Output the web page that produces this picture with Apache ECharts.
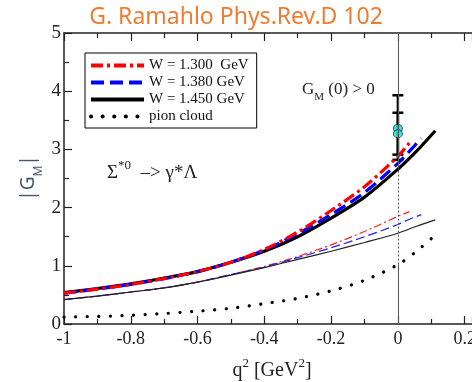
<!DOCTYPE html>
<html>
<head>
<meta charset="utf-8">
<script src="https://cdn.jsdelivr.net/npm/echarts@6/dist/echarts.min.js"></script>
<style>
  html, body { margin: 0; padding: 0; background: #fff; }
  #main { width: 472px; height: 382px; }
</style>
</head>
<body>
<div id="main"></div>
<script>
// q^2 grid [GeV^2]; each curve stops at its own threshold
var qBase = [-1, -0.9, -0.8, -0.7, -0.6, -0.5, -0.4, -0.3, -0.2, -0.1, 0]
var qRed = qBase.concat([0.034])
var qBlue = qBase.concat([0.035, 0.07])
var qBlack = qBase.concat([0.056, 0.112])

// |G_M| full model (thick lines)
var thickRed = [0.53, 0.60, 0.68, 0.78, 0.90, 1.06, 1.28, 1.58, 1.95, 2.36, 2.88, 3.11]
var thickBlue = [0.53, 0.60, 0.68, 0.78, 0.90, 1.06, 1.27, 1.55, 1.88, 2.26, 2.76, 2.97, 3.19]
var thickBlack = [0.54, 0.61, 0.69, 0.79, 0.90, 1.06, 1.25, 1.50, 1.82, 2.18, 2.66, 2.97, 3.32]
// thin lines
var thinRed = [0.42, 0.48, 0.55, 0.62, 0.72, 0.85, 0.99, 1.16, 1.36, 1.59, 1.85, 1.93]
var thinBlue = [0.42, 0.48, 0.55, 0.62, 0.72, 0.85, 0.98, 1.14, 1.31, 1.50, 1.71, 1.80, 1.88]
var thinBlack = [0.42, 0.48, 0.55, 0.62, 0.72, 0.84, 0.97, 1.11, 1.25, 1.40, 1.56, 1.68, 1.79]
// pion cloud
var pionCloud = [0.12, 0.13, 0.15, 0.18, 0.22, 0.27, 0.35, 0.44, 0.57, 0.75, 1.02, 1.25, 1.53]

// data points at q^2 = 0 with error bars
var gmX = [0, 0]
var gmVal = [3.36, 3.27]
var gmLo = [2.82, 2.91]
var gmHi = [3.93, 3.63]

var legendNames = ['W = 1.300  GeV', 'W = 1.380 GeV', 'W = 1.450 GeV', 'pion cloud']
// the plot is cut at the right edge of the picture, just past 0.2
var xTicks = { min: -1, max: 0.222, step: 0.2 }
var yTicks = { min: 0, max: 5, step: 1 }

function pairs (xs, ys) {
  return xs.map(function (x, i) { return [x, ys[i]] })
}

var serif = 'Liberation Serif'
var dashDot = [12, 4, 3, 4]
var dashThin = [8, 3, 2, 3]

function curve (name, xs, ys, color, width, type) {
  return {
    name: name,
    type: 'line',
    data: pairs(xs, ys),
    smooth: 0.3,
    symbol: 'none',
    silent: true,
    itemStyle: { color: color },
    lineStyle: { color: color, width: width, type: type }
  }
}

var myChart = echarts.init(document.getElementById('main'))

var axisCommon = {
  type: 'value',
  axisLine: { show: true, onZero: false, lineStyle: { color: '#222', width: 1.5 } },
  axisTick: { show: true, inside: true, length: 8, lineStyle: { color: '#222', width: 1.2 } },
  minorTick: { show: true, splitNumber: 2, length: 5, lineStyle: { color: '#222', width: 1.2 } },
  splitLine: { show: false }
}

// only label real multiples of the step (skip the cut-off end)
function xLabel (v) {
  var k = Math.round(v / xTicks.step)
  if (Math.abs(v - k * xTicks.step) > 1e-6) return ''
  return String(Math.round(v * 10) / 10)
}

var option = {
  backgroundColor: '#fff',
  animation: false,
  grid: { left: 64, top: 33, bottom: 58, right: 0, containLabel: false, outerBoundsMode: 'none' },
  legend: {
    left: 85,
    top: 53,
    orient: 'vertical',
    padding: [5, 8, 4, 4],
    itemWidth: 53,
    itemHeight: 15,
    itemGap: 2,
    borderColor: '#000',
    borderWidth: 1,
    selectedMode: false,
    itemStyle: { opacity: 0 },
    textStyle: { fontFamily: serif, fontSize: 15, color: '#111' },
    data: [
      { name: legendNames[0], lineStyle: { width: 4 } },
      { name: legendNames[1], lineStyle: { width: 4 } },
      { name: legendNames[2], lineStyle: { width: 4 } },
      { name: legendNames[3], lineStyle: { width: 4 } }
    ]
  },
  xAxis: [
    Object.assign({}, axisCommon, {
      position: 'bottom',
      min: xTicks.min,
      max: xTicks.max,
      interval: xTicks.step,
      axisLabel: {
        margin: 6,
        fontFamily: serif,
        fontSize: 18,
        color: '#222',
        showMaxLabel: true,
        formatter: xLabel
      }
    }),
    Object.assign({}, axisCommon, {
      position: 'top',
      min: xTicks.min,
      max: xTicks.max,
      interval: xTicks.step,
      axisLabel: { show: false }
    })
  ],
  yAxis: Object.assign({}, axisCommon, {
    position: 'left',
    min: yTicks.min,
    max: yTicks.max,
    interval: yTicks.step,
    axisLabel: { margin: 3, fontFamily: serif, fontSize: 19, color: '#222' }
  }),
  graphic: [
    {
      type: 'text', x: 236, y: 17,
      style: {
        text: 'G. Ramahlo Phys.Rev.D 102',
        fill: '#ED7D31',
        font: '23px "Noto Sans"',
        align: 'center',
        verticalAlign: 'middle'
      }
    },
    {
      type: 'text', x: 107, y: 171,
      style: {
        text: '{b|Σ}{s|*0}{b|  –> γ*Λ}',
        verticalAlign: 'middle',
        rich: {
          b: { fontFamily: serif, fontSize: 19, fill: '#222', lineHeight: 24, verticalAlign: 'bottom' },
          s: { fontFamily: serif, fontSize: 13, fill: '#222', lineHeight: 24, verticalAlign: 'top' }
        }
      }
    },
    {
      type: 'text', x: 302, y: 92,
      style: {
        text: '{b|G}{s|M}{b| (0) > 0}',
        verticalAlign: 'middle',
        rich: {
          b: { fontFamily: serif, fontSize: 17, fill: '#222', lineHeight: 22, verticalAlign: 'top' },
          s: { fontFamily: serif, fontSize: 11, fill: '#222', lineHeight: 22, verticalAlign: 'bottom' }
        }
      }
    },
    {
      type: 'text', x: 32, y: 178, rotation: Math.PI / 2,
      style: {
        text: '{b||G}{s|M}{b||}',
        align: 'center',
        verticalAlign: 'middle',
        rich: {
          b: { fontFamily: 'Noto Sans', fontSize: 19, fill: '#44546A', lineHeight: 26, verticalAlign: 'top' },
          s: { fontFamily: 'Noto Sans', fontSize: 12, fill: '#44546A', lineHeight: 26, verticalAlign: 'bottom' }
        }
      }
    },
    {
      type: 'text', x: 272, y: 369,
      style: {
        text: '{b|q}{s|2}{b| [GeV}{s|2}{b|]}',
        align: 'center',
        verticalAlign: 'middle',
        rich: {
          b: { fontFamily: serif, fontSize: 20, fill: '#222', lineHeight: 24, verticalAlign: 'bottom' },
          s: { fontFamily: serif, fontSize: 13, fill: '#222', lineHeight: 24, verticalAlign: 'top' }
        }
      }
    }
  ],
  series: [
    // reference line at q^2 = 0
    {
      name: 'ref',
      type: 'line',
      data: [],
      silent: true,
      markLine: {
        silent: true,
        symbol: 'none',
        label: { show: false },
        lineStyle: { color: '#555', width: 1, type: 'solid' },
        data: [
          [{ coord: [0, 0] }, { coord: [0, 1.02] }],
          [{ coord: [0, 1.02], lineStyle: { type: [2, 2] } }, { coord: [0, 2.66] }],
          [{ coord: [0, 2.66] }, { coord: [0, 5] }]
        ]
      }
    },
    curve('thin1300', qRed, thinRed, '#ff2020', 1.2, dashThin),
    curve('thin1380', qBlue, thinBlue, '#2020ff', 1.2, [9, 4]),
    curve('thin1450', qBlack, thinBlack, '#222', 1.2, 'solid'),
    curve(legendNames[3], qBlack, pionCloud, '#000', 3.2, [0.1, 11.5]),
    curve(legendNames[2], qBlack, thickBlack, '#000', 3.2, 'solid'),
    curve(legendNames[1], qBlue, thickBlue, '#0000ff', 3.2, [13, 6]),
    curve(legendNames[0], qRed, thickRed, '#ff0000', 3.2, dashDot),
    {
      name: 'errors',
      type: 'custom',
      silent: true,
      data: gmX.map(function (x, i) { return [x, gmVal[i], gmLo[i], gmHi[i]] }),
      encode: { x: 0, y: [2, 3] },
      renderItem: function (params, api) {
        var x = api.value(0)
        var lo = api.coord([x, api.value(2)])
        var hi = api.coord([x, api.value(3)])
        var st = { stroke: '#000', lineWidth: 2.5 }
        return {
          type: 'group',
          children: [
            { type: 'line', shape: { x1: lo[0], y1: lo[1], x2: hi[0], y2: hi[1] }, style: st },
            { type: 'line', shape: { x1: lo[0] - 5.5, y1: lo[1], x2: lo[0] + 5.5, y2: lo[1] }, style: st },
            { type: 'line', shape: { x1: hi[0] - 5.5, y1: hi[1], x2: hi[0] + 5.5, y2: hi[1] }, style: st }
          ]
        }
      }
    },
    {
      name: 'GM0',
      type: 'scatter',
      silent: true,
      data: pairs(gmX, gmVal),
      symbol: 'circle',
      symbolSize: [9, 8],
      itemStyle: { color: '#19e0e0', borderColor: '#0a4040', borderWidth: 1 }
    }
  ]
}

// pion cloud dots: round caps
option.series[4].lineStyle.cap = 'round'

myChart.setOption(option)
</script>
</body>
</html>
